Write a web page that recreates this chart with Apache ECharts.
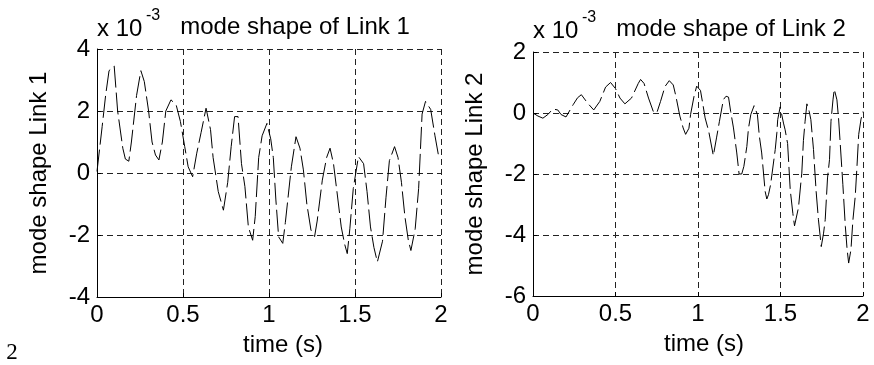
<!DOCTYPE html>
<html>
<head>
<meta charset="utf-8">
<script src="https://cdn.jsdelivr.net/npm/echarts@6/dist/echarts.min.js"></script>
<style>
  html, body { margin: 0; padding: 0; background: #fff; }
  #chart { width: 874px; height: 365px; }
</style>
</head>
<body>
<div id="chart"></div>
<script>
// time samples (s) and mode shape values (x 10^-3)
const timeLink1 = [0, 0.03, 0.05, 0.07, 0.1, 0.12, 0.15, 0.165, 0.185, 0.2, 0.23, 0.255, 0.275, 0.3, 0.32, 0.34, 0.36, 0.38, 0.4, 0.43, 0.46, 0.485, 0.51, 0.53, 0.556, 0.58, 0.605, 0.634, 0.66, 0.675, 0.705, 0.735, 0.76, 0.78, 0.8, 0.82, 0.84, 0.86, 0.88, 0.905, 0.92, 0.94, 0.96, 0.988, 1.01, 1.025, 1.04, 1.056, 1.08, 1.095, 1.13, 1.157, 1.18, 1.2, 1.22, 1.244, 1.265, 1.28, 1.31, 1.335, 1.355, 1.375, 1.395, 1.42, 1.44, 1.455, 1.47, 1.49, 1.52, 1.55, 1.57, 1.59, 1.61, 1.63, 1.66, 1.68, 1.7, 1.73, 1.75, 1.77, 1.79, 1.81, 1.825, 1.85, 1.87, 1.89, 1.91, 1.94, 1.965, 1.985];
const shapeLink1 = [0.05, 1.5, 2.5, 3.3, 3.45, 2.0, 0.8, 0.45, 0.38, 1.0, 2.5, 3.3, 2.95, 2.0, 1.0, 0.58, 0.42, 1.0, 2.0, 2.36, 2.2, 1.66, 0.85, 0.2, -0.12, 0.64, 1.3, 2.09, 1.4, 0.5, -0.6, -1.2, -0.3, 0.85, 1.82, 1.82, 0.3, -0.44, -1.74, -2.17, -1.4, 0.5, 1.2, 1.6, 1.1, 0.5, -0.87, -2.06, -2.27, -1.6, 0.2, 1.17, 0.8, 0.1, -1.0, -1.84, -2.05, -1.55, -0.23, 0.5, 0.8, 0.3, -0.6, -1.74, -2.3, -2.6, -1.8, -0.5, 0.53, 0.3, -0.6, -1.74, -2.4, -2.87, -2.2, -0.8, 0.4, 0.85, 0.5, -0.3, -1.4, -2.17, -2.5, -1.8, -0.5, 1.9, 2.31, 2.05, 1.2, 0.58];

const timeLink2 = [0, 0.03, 0.06, 0.09, 0.12, 0.15, 0.17, 0.2, 0.243, 0.27, 0.293, 0.33, 0.368, 0.405, 0.44, 0.47, 0.5, 0.527, 0.557, 0.597, 0.638, 0.652, 0.673, 0.7, 0.729, 0.75, 0.773, 0.8, 0.826, 0.85, 0.866, 0.89, 0.91, 0.925, 0.945, 0.955, 0.976, 0.992, 1.015, 1.03, 1.043, 1.065, 1.093, 1.105, 1.113, 1.13, 1.154, 1.17, 1.185, 1.198, 1.215, 1.235, 1.249, 1.265, 1.278, 1.296, 1.306, 1.32, 1.34, 1.36, 1.372, 1.386, 1.407, 1.417, 1.427, 1.44, 1.468, 1.478, 1.483, 1.498, 1.518, 1.528, 1.543, 1.559, 1.575, 1.585, 1.609, 1.629, 1.639, 1.649, 1.66, 1.674, 1.684, 1.7, 1.716, 1.73, 1.747, 1.761, 1.771, 1.785, 1.797, 1.806, 1.818, 1.826, 1.842, 1.852, 1.862, 1.878, 1.893, 1.903, 1.913, 1.927, 1.939, 1.953, 1.963, 1.974, 1.988, 2.0];
const shapeLink2 = [0, -0.1, -0.17, -0.05, 0.13, 0.1, -0.05, -0.13, 0.27, 0.5, 0.6, 0.33, 0.1, 0.38, 0.85, 1.0, 0.8, 0.49, 0.3, 0.49, 0.97, 1.1, 0.97, 0.49, 0.05, 0.0, 0.38, 0.87, 1.06, 0.92, 0.55, -0.1, -0.49, -0.7, -0.5, -0.05, 0.55, 0.88, 0.74, 0.27, -0.16, -0.6, -1.4, -1.42, -0.79, -0.27, 0.44, 0.55, 0.52, 0.05, -0.49, -1.31, -2.0, -2.0, -1.75, -1.1, -0.5, -0.05, 0.24, -0.05, -0.77, -1.31, -2.57, -2.82, -2.68, -2.35, -1.2, -0.65, -0.22, 0.2, -0.33, -0.55, -1.0, -2.52, -3.3, -3.7, -3.1, -1.97, -0.9, -0.27, 0.3, 0.05, -0.22, -1.2, -2.57, -3.5, -4.38, -3.94, -3.5, -2.13, -1.53, -0.27, 0.43, 0.78, 0.43, -0.19, -1.0, -2.35, -3.72, -4.43, -4.92, -4.48, -3.5, -2.73, -1.8, -0.7, -0.2, 0.05];

const timeTicks = [0, 0.5, 1, 1.5, 2];
const yRange1 = [-4, 4];
const yRange2 = [-6, 2];

const FONT = "'Liberation Sans', Arial, sans-serif";
const FS = 24;

const chart = echarts.init(document.getElementById("chart"));

function makeX(gridIndex, namePad) {
  return {
    type: "value",
    gridIndex: gridIndex,
    min: timeTicks[0],
    max: timeTicks[timeTicks.length - 1],
    interval: 0.5,
    name: "time (s)",
    nameLocation: "middle",
    nameGap: 36,
    nameTextStyle: { color: "#000", fontSize: FS, fontFamily: FONT, padding: namePad },
    axisLine: { show: true, onZero: false, lineStyle: { color: "#000", width: 1 } },
    axisTick: { show: true, inside: true, length: 4, lineStyle: { color: "#000" } },
    axisLabel: { color: "#000", fontSize: FS, fontFamily: FONT, margin: 6 },
    splitLine: { show: true, lineStyle: { color: "#222", width: 1, type: [6, 4] } }
  };
}

function makeY(gridIndex, range, name) {
  return {
    type: "value",
    gridIndex: gridIndex,
    min: range[0],
    max: range[1],
    interval: 2,
    name: name,
    nameLocation: "middle",
    nameGap: 46,
    nameTextStyle: { color: "#000", fontSize: FS, fontFamily: FONT },
    axisLine: { show: true, onZero: false, lineStyle: { color: "#000", width: 1 } },
    axisTick: { show: true, inside: true, length: 4, lineStyle: { color: "#000" } },
    axisLabel: { color: "#000", fontSize: FS, fontFamily: FONT, margin: 7 },
    splitLine: { show: true, lineStyle: { color: "#222", width: 1, type: [6, 4] } }
  };
}

function titleTexts(x0, yBase, titleX, label) {
  return [
    { type: "text", x: x0, y: yBase, style: { text: "x 10", fontSize: FS, fontFamily: FONT, fill: "#000", align: "left", verticalAlign: "middle" } },
    { type: "text", x: x0 + 49, y: yBase - 13, style: { text: "-3", fontSize: 16, fontFamily: FONT, fill: "#000", align: "left", verticalAlign: "middle" } },
    { type: "text", x: titleX, y: yBase - 2, style: { text: label, fontSize: FS, fontFamily: FONT, fill: "#000", align: "center", verticalAlign: "middle" } }
  ];
}

const option = {
  animation: false,
  backgroundColor: "#fff",
  grid: [
    { left: 97, top: 49, width: 344, height: 248 },
    { left: 533, top: 52, width: 330, height: 244 }
  ],
  xAxis: [makeX(0, [0, 0, 0, 28]), makeX(1, [0, 0, 0, 12])],
  yAxis: [makeY(0, yRange1, "mode shape Link 1"), makeY(1, yRange2, "mode shape Link 2")],
  series: [
    {
      type: "line",
      xAxisIndex: 0,
      yAxisIndex: 0,
      data: timeLink1.map((t, i) => [t, shapeLink1[i]]),
      showSymbol: false,
      lineStyle: { color: "#000", width: 1, type: [22, 5] }
    },
    {
      type: "line",
      xAxisIndex: 1,
      yAxisIndex: 1,
      data: timeLink2.map((t, i) => [t, shapeLink2[i]]),
      showSymbol: false,
      lineStyle: { color: "#000", width: 1, type: [22, 5] }
    }
  ],
  graphic: [
    ...titleTexts(97, 29, 295, "mode shape of Link 1"),
    ...titleTexts(533, 31, 731, "mode shape of Link 2"),
    { type: "text", x: 12, y: 353, style: { text: "2", fontSize: 23, fontFamily: "'Liberation Serif', 'Times New Roman', serif", fill: "#000", align: "center", verticalAlign: "middle" } }
  ]
};

chart.setOption(option);
</script>
</body>
</html>
